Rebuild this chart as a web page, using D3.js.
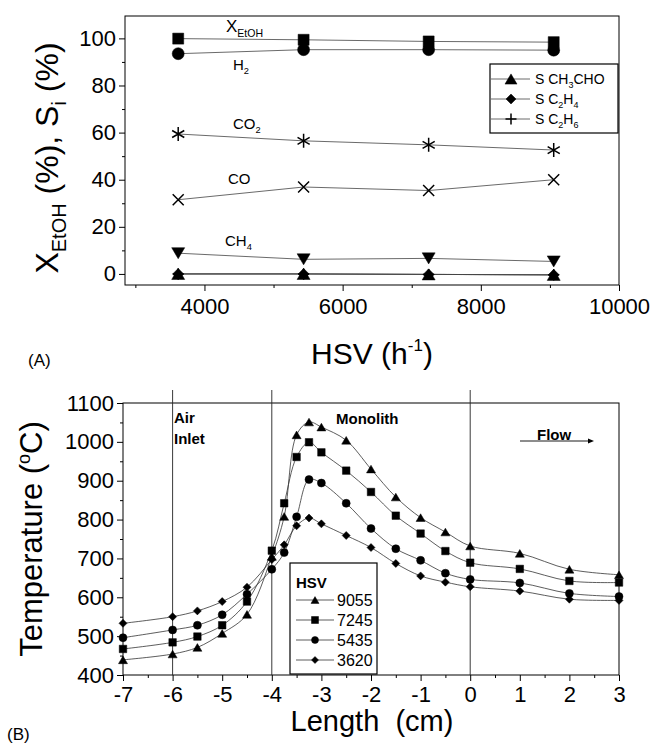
<!DOCTYPE html>
<html>
<head>
<meta charset="utf-8">
<script src="https://cdn.jsdelivr.net/npm/d3@7"></script>
<style>
  body { margin: 0; background: #fff; }
  svg { font-family: "Liberation Sans", Arial, sans-serif; }
  .eje path, .eje line { stroke: #000; }
</style>
</head>
<body>
<div id="grafico"></div>
<script>
// ---- Datos panel (A) ----
const hsv = [3620, 5435, 7245, 9055];
const xEtOH = [99.9, 99.4, 98.7, 98.4];
const sH2 = [93.5, 95.2, 95.2, 95.0];
const sCO2 = [59.4, 56.5, 54.8, 52.6];
const sCO = [31.5, 36.9, 35.4, 40.0];
const sCH4 = [8.8, 6.2, 6.6, 5.3];
const sCH3CHO = [0, 0, -0.2, -0.4];
const sC2H4 = [0, 0, -0.2, -0.4];
const sC2H6 = [0, 0, -0.2, -0.4];
const ticksA_x = [4000, 6000, 8000, 10000];
const ticksA_y = [0, 20, 40, 60, 80, 100];

// ---- Datos panel (B) ----
const longitud = [-7, -6, -5.5, -5, -4.5, -4, -3.75, -3.5, -3.25, -3, -2.5, -2, -1.5, -1, -0.5, 0, 1, 2, 3];
const t9055 = [439, 454, 471, 507, 556, 705, 808, 1018, 1051, 1038, 1004, 930, 858, 805, 768, 732, 713, 672, 658];
const t7245 = [467, 484, 499, 528, 589, 720, 842, 961, 999, 973, 926, 871, 810, 764, 719, 689, 673, 642, 638];
const t5435 = [496, 516, 528, 555, 608, 672, 715, 807, 903, 894, 842, 777, 725, 695, 662, 646, 637, 610, 602];
const t3620 = [533, 550, 565, 589, 626, 697, 735, 784, 804, 789, 759, 728, 687, 655, 639, 627, 616, 595, 592];
const seriesHSV = ["9055", "7245", "5435", "3620"];
const ticksB_x = [-7, -6, -5, -4, -3, -2, -1, 0, 1, 2, 3];
const ticksB_y = [400, 500, 600, 700, 800, 900, 1000, 1100];

// simbolos propios
const asterisco = { draw(c, s) { const r = Math.sqrt(s) / 2;
  for (let i = 0; i < 3; i++) { const a = Math.PI / 2 + i * Math.PI / 3;
    c.moveTo(r * Math.cos(a), r * Math.sin(a)); c.lineTo(-r * Math.cos(a), -r * Math.sin(a)); } } };
const aspa = { draw(c, s) { const r = Math.sqrt(s) / 2;
  c.moveTo(-r, -r); c.lineTo(r, r); c.moveTo(r, -r); c.lineTo(-r, r); } };
const cruz = { draw(c, s) { const r = Math.sqrt(s) / 2;
  c.moveTo(-r, 0); c.lineTo(r, 0); c.moveTo(0, -r); c.lineTo(0, r); } };
const trianguloAbajo = { draw(c, s) { const r = Math.sqrt(s) / 2;
  c.moveTo(-r, -r * 0.85); c.lineTo(r, -r * 0.85); c.lineTo(0, r * 0.85); c.closePath(); } };
const trianguloArriba = { draw(c, s) { const r = Math.sqrt(s) / 2;
  c.moveTo(-r, r * 0.85); c.lineTo(r, r * 0.85); c.lineTo(0, -r * 0.85); c.closePath(); } };
const cuadrado = { draw(c, s) { const r = Math.sqrt(s) / 2; c.rect(-r, -r, 2 * r, 2 * r); } };
const rombo = { draw(c, s) { const r = Math.sqrt(s) / 2;
  c.moveTo(0, -r); c.lineTo(r, 0); c.lineTo(0, r); c.lineTo(-r, 0); c.closePath(); } };
const circulo = { draw(c, s) { const r = Math.sqrt(s) / 2; c.moveTo(r, 0); c.arc(0, 0, r, 0, 2 * Math.PI); } };

const svg = d3.select("#grafico").append("svg").attr("width", 650).attr("height", 743);

function marcador(g, tipo, tam, x, y, relleno) {
  g.append("path")
    .attr("d", d3.symbol().type(tipo).size(tam * tam)())
    .attr("transform", `translate(${x},${y})`)
    .attr("fill", relleno ? "#000" : "none")
    .attr("stroke", "#000")
    .attr("stroke-width", relleno ? 0.5 : 1.5);
}

// ================= Panel A =================
const A = { left: 125, right: 619, top: 16, bottom: 285 };
const xA = d3.scaleLinear().domain([2850, 10000]).range([A.left, A.right]);
const yA = d3.scaleLinear().domain([-4.7, 109.5]).range([A.bottom, A.top]);
const gA = svg.append("g");

gA.append("rect").attr("x", A.left).attr("y", A.top).attr("width", A.right - A.left)
  .attr("height", A.bottom - A.top).attr("fill", "none").attr("stroke", "#000").attr("stroke-width", 1);

// ejes
const ejeXA = gA.append("g").attr("class", "eje").attr("transform", `translate(0,${A.bottom})`)
  .call(d3.axisBottom(xA).tickValues(ticksA_x).tickSize(6).tickPadding(3).tickFormat(d3.format("d")));
gA.append("g").attr("class", "eje").attr("transform", `translate(0,${A.bottom})`)
  .call(d3.axisBottom(xA).tickValues([3000, 5000, 7000, 9000]).tickSize(3).tickFormat(""));
const ejeYA = gA.append("g").attr("class", "eje").attr("transform", `translate(${A.left},0)`)
  .call(d3.axisLeft(yA).tickValues(ticksA_y).tickSize(6).tickPadding(3));
gA.append("g").attr("class", "eje").attr("transform", `translate(${A.left},0)`)
  .call(d3.axisLeft(yA).tickValues([10, 30, 50, 70, 90]).tickSize(3).tickFormat(""));
gA.selectAll(".eje .domain").remove();
[ejeXA, ejeYA].forEach(e => e.selectAll("text").attr("font-size", 22).attr("font-family", "inherit"));
ejeXA.selectAll("text").attr("dy", "0.9em");

const lineaA = d3.line().x(d => xA(d[0])).y(d => yA(d[1]));
const seriesA = [
  { v: sCH3CHO, t: trianguloArriba, s: 13, f: true },
  { v: sC2H4, t: rombo, s: 11, f: true },
  { v: sC2H6, t: cruz, s: 11, f: false },
  { v: sCH4, t: trianguloAbajo, s: 13, f: true },
  { v: sCO, t: aspa, s: 11, f: false },
  { v: sCO2, t: asterisco, s: 14, f: false },
  { v: sH2, t: circulo, s: 12, f: true },
  { v: xEtOH, t: cuadrado, s: 11, f: true }
];
seriesA.forEach(s => {
  gA.append("path").datum(hsv.map((h, i) => [h, s.v[i]])).attr("d", lineaA)
    .attr("fill", "none").attr("stroke", "#444").attr("stroke-width", 0.8);
});
seriesA.forEach(s => {
  hsv.forEach((h, i) => marcador(gA, s.t, s.s, xA(h), yA(s.v[i]), s.f));
});

// etiquetas de series
function etiqueta(g, x, y, base, sub, tam) {
  const t = g.append("text").attr("x", x).attr("y", y).attr("font-size", tam);
  t.append("tspan").text(base);
  if (sub) t.append("tspan").attr("font-size", tam * 0.62).attr("dy", tam * 0.28).text(sub);
  return t;
}
etiqueta(gA, 226, 32, "X", "EtOH", 17);
etiqueta(gA, 233, 70, "H", "2", 15);
etiqueta(gA, 233, 129, "CO", "2", 15);
etiqueta(gA, 228, 184, "CO", null, 15);
etiqueta(gA, 225, 246, "CH", "4", 15);

// leyenda A
const leyA = gA.append("g");
leyA.append("rect").attr("x", 490).attr("y", 64).attr("width", 128).attr("height", 69)
  .attr("fill", "#fff").attr("stroke", "#000").attr("stroke-width", 1.2);
const itemsA = [
  { t: trianguloArriba, s: 12, f: true, base: "S CH", sub: "3", rest: "CHO" },
  { t: rombo, s: 10, f: true, base: "S C", sub: "2", rest: "H", sub2: "4" },
  { t: cruz, s: 11, f: false, base: "S C", sub: "2", rest: "H", sub2: "6" }
];
itemsA.forEach((it, i) => {
  const y = 79 + i * 20;
  leyA.append("line").attr("x1", 491).attr("x2", 530).attr("y1", y).attr("y2", y)
    .attr("stroke", "#444").attr("stroke-width", 0.8);
  marcador(leyA, it.t, it.s, 511, y, it.f);
  const t = leyA.append("text").attr("x", 535).attr("y", y + 5).attr("font-size", 14);
  t.append("tspan").text(it.base);
  t.append("tspan").attr("font-size", 9).attr("dy", 4).text(it.sub);
  t.append("tspan").attr("dy", -4).text(it.rest);
  if (it.sub2) t.append("tspan").attr("font-size", 9).attr("dy", 4).text(it.sub2);
});

// titulos A
const tituloYA = gA.append("text").attr("transform", "translate(58,158) rotate(-90)")
  .attr("text-anchor", "middle").attr("font-size", 32);
tituloYA.append("tspan").text("X");
tituloYA.append("tspan").attr("font-size", 20).attr("dy", 8).text("EtOH");
tituloYA.append("tspan").attr("dy", -8).text(" (%), S");
tituloYA.append("tspan").attr("font-size", 20).attr("dy", 8).text("i");
tituloYA.append("tspan").attr("dy", -8).text(" (%)");

const tituloXA = gA.append("text").attr("x", 372).attr("y", 364).attr("text-anchor", "middle").attr("font-size", 30);
tituloXA.append("tspan").text("HSV (h");
tituloXA.append("tspan").attr("font-size", 17).attr("dy", -13).text("-1");
tituloXA.append("tspan").attr("dy", 13).text(")");
gA.append("text").attr("x", 28).attr("y", 366).attr("font-size", 17).text("(A)");

// ================= Panel B =================
const B = { left: 123, right: 619, top: 403, bottom: 675 };
const xB = d3.scaleLinear().domain([-7, 3]).range([B.left, B.right]);
const yB = d3.scaleLinear().domain([400, 1100]).range([B.bottom, B.top]);
const gB = svg.append("g");

gB.append("rect").attr("x", B.left).attr("y", B.top).attr("width", B.right - B.left)
  .attr("height", B.bottom - B.top).attr("fill", "none").attr("stroke", "#000").attr("stroke-width", 1);

const ejeXB = gB.append("g").attr("class", "eje").attr("transform", `translate(0,${B.bottom})`)
  .call(d3.axisBottom(xB).tickValues(ticksB_x).tickSize(6).tickPadding(2));
gB.append("g").attr("class", "eje").attr("transform", `translate(0,${B.bottom})`)
  .call(d3.axisBottom(xB).tickValues(d3.range(-6.5, 3, 1)).tickSize(3).tickFormat(""));
const ejeYB = gB.append("g").attr("class", "eje").attr("transform", `translate(${B.left},0)`)
  .call(d3.axisLeft(yB).tickValues(ticksB_y).tickSize(6).tickPadding(3).tickFormat(d3.format("d")));
gB.append("g").attr("class", "eje").attr("transform", `translate(${B.left},0)`)
  .call(d3.axisLeft(yB).tickValues(d3.range(450, 1100, 100)).tickSize(3).tickFormat(""));
gB.selectAll(".eje .domain").remove();
[ejeXB, ejeYB].forEach(e => e.selectAll("text").attr("font-size", 22).attr("font-family", "inherit"));
ejeXB.selectAll("text").attr("dy", "0.85em").text(d => d < 0 ? "-" + Math.abs(d) : d);

// lineas verticales de zona
[-6, -4, 0].forEach(v => {
  gB.append("line").attr("x1", xB(v)).attr("x2", xB(v)).attr("y1", 390).attr("y2", B.bottom)
    .attr("stroke", "#222").attr("stroke-width", 0.9);
});

const curvaB = d3.line().x(d => xB(d[0])).y(d => yB(d[1])).curve(d3.curveCatmullRom.alpha(0.5));
const datosB = [
  { v: t3620, t: rombo, s: 8 },
  { v: t5435, t: circulo, s: 8 },
  { v: t7245, t: cuadrado, s: 7.5 },
  { v: t9055, t: trianguloArriba, s: 9 }
];
datosB.forEach(s => {
  gB.append("path").datum(longitud.map((l, i) => [l, s.v[i]])).attr("d", curvaB)
    .attr("fill", "none").attr("stroke", "#333").attr("stroke-width", 0.8);
});
datosB.forEach(s => {
  longitud.forEach((l, i) => marcador(gB, s.t, s.s, xB(l), yB(s.v[i]), true));
});

// textos de zona
function negrita(x, y, txt) {
  gB.append("text").attr("x", x).attr("y", y).attr("font-size", 15).attr("font-weight", "bold").text(txt);
}
negrita(174, 423, "Air");
negrita(174, 444, "Inlet");
negrita(336, 424, "Monolith");
negrita(537, 440, "Flow");
gB.append("line").attr("x1", 520).attr("x2", 588).attr("y1", 441).attr("y2", 441)
  .attr("stroke", "#000").attr("stroke-width", 0.9);
gB.append("path").attr("d", "M588,438.5 L594,441 L588,443.5 Z").attr("fill", "#000");

// leyenda B
const leyB = gB.append("g");
leyB.append("rect").attr("x", 290).attr("y", 563).attr("width", 87).attr("height", 111)
  .attr("fill", "#fff").attr("stroke", "#000").attr("stroke-width", 1.2);
leyB.append("text").attr("x", 296).attr("y", 588).attr("font-size", 15).attr("font-weight", "bold").text("HSV");
const marcasLey = [trianguloArriba, cuadrado, circulo, rombo];
seriesHSV.forEach((n, i) => {
  const y = 600 + i * 20;
  leyB.append("line").attr("x1", 296).attr("x2", 334).attr("y1", y).attr("y2", y)
    .attr("stroke", "#333").attr("stroke-width", 0.8);
  marcador(leyB, marcasLey[i], i === 0 ? 8 : 7, 315, y, true);
  leyB.append("text").attr("x", 337).attr("y", y + 6).attr("font-size", 16).text(n);
});

// titulos B
const tituloYB = gB.append("text").attr("transform", "translate(42,539) rotate(-90)")
  .attr("text-anchor", "middle").attr("font-size", 31);
tituloYB.append("tspan").text("Temperature (");
tituloYB.append("tspan").attr("font-size", 18).attr("dy", -12).text("o");
tituloYB.append("tspan").attr("dy", 12).text("C)");

gB.append("text").attr("x", 372).attr("y", 731).attr("text-anchor", "middle").attr("font-size", 29)
  .attr("xml:space", "preserve").text("Length  (cm)");
gB.append("text").attr("x", 7).attr("y", 740).attr("font-size", 17).text("(B)");
</script>
</body>
</html>
